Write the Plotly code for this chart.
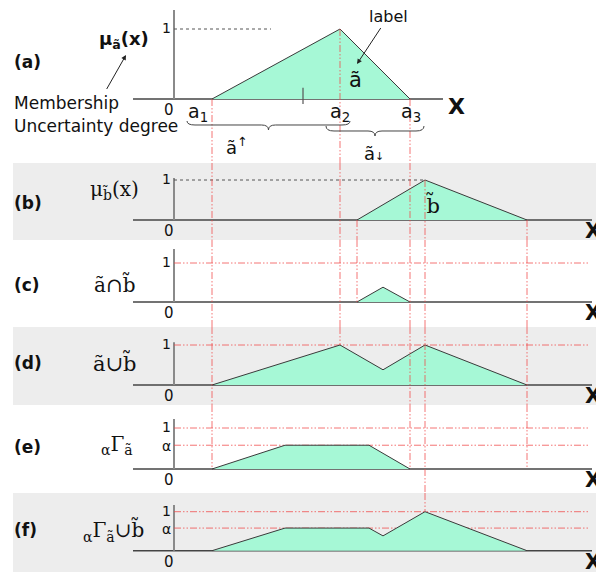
import plotly.graph_objects as go

W, H = 596, 572

# ---------------- data ----------------
a_x = [3.8, 16.6, 23.6]          # a1, a2, a3
a_y = [0, 1, 0]
b_x = [18.3, 25.1, 35.3]         # b1, b2, b3
b_y = [0, 1, 0]
inter_x = [18.3, 20.9, 23.6]
inter_y = [0, 0.38, 0]
union_x = [3.8, 16.6, 20.9, 25.1, 35.3]
union_y = [0, 1, 0.38, 1, 0]
alpha = 0.58
cut_x = [3.8, 11.1, 19.5, 23.6]
cut_y = [0, alpha, alpha, 0]
cutu_x = [3.8, 11.1, 19.5, 20.9, 25.1, 35.3]
cutu_y = [0, alpha, alpha, 0.38, 1, 0]
panel_ticks = [["1"], ["1"], ["1"], ["1"], ["1", "α"], ["1", "α"]]

# ---------------- layout geometry (pixels) ----------------
# panel: (top px, bottom px, px of y=0, px of y=1)
panels = [
    (0, 163, 99, 29),
    (163, 240, 220, 180),
    (240, 327, 302, 263),
    (327, 405, 385, 345),
    (405, 493, 469, 428),
    (493, 572, 550.7, 511.7),
]
X0PX, XSCALE = 174, 10.0
xr = [(0 - X0PX) / XSCALE, (W - X0PX) / XSCALE]


def px2x(p):
    return (p - X0PX) / XSCALE


def pxp(p):  # px -> paper x
    return p / W


def pyp(p):  # px -> paper y
    return 1 - p / H


yranges = []
for (T, B, P0, P1) in panels:
    s = P0 - P1
    yranges.append([-(B - P0) / s, (P0 - T) / s])

MINT = "#a6f8d6"
OUT = "#3a3a3a"
RED = "rgba(240,70,70,0.75)"
DASH = "7px,2px,1.5px,2px,1.5px,2px"
AXC = "#444444"
YAXC = "#8a8a8a"
SANS = "DejaVu Sans, Verdana"
SERIF = "DejaVu Serif, Liberation Serif"

fig = go.Figure()
yn = ["y", "y2", "y3", "y4", "y5", "y6"]


def add_line(xs, ys, k, color, width=1, dash=None):
    fig.add_trace(go.Scatter(x=xs, y=ys, xaxis="x", yaxis=yn[k], mode="lines",
                             line=dict(color=color, width=width, dash=dash),
                             hoverinfo="skip", showlegend=False))


def add_fill(xs, ys, k):
    fig.add_trace(go.Scatter(x=xs, y=ys, xaxis="x", yaxis=yn[k], mode="lines",
                             fill="tozeroy", fillcolor=MINT,
                             line=dict(color=OUT, width=1),
                             hoverinfo="skip", showlegend=False))


# background bands (b), (d), (f)
for k in (1, 3, 5):
    fig.add_shape(type="rect", xref="paper", yref=yn[k] + " domain",
                  x0=pxp(13), x1=1, y0=0, y1=1, fillcolor="#ededed",
                  line_width=0, layer="below")

# horizontal axis + vertical y-axis lines per panel
x_ends = [443, 592, 592, 592, 592, 592]
y_tops = [1.27, 1.05, 1.36, 1.07, 1.22, 1.17]
for k in range(6):
    add_line([px2x(133), px2x(x_ends[k])], [0, 0], k, AXC, 1.4)
    add_line([0, 0], [0, y_tops[k]], k, YAXC, 2)

# reference dashed lines
add_line([0, px2x(271)], [1, 1], 0, "#555555", 1, "3px,3px")
add_line([0, b_x[1]], [1, 1], 1, "#555555", 1, "3px,3px")
for k in (2, 3, 4, 5):
    add_line([0, px2x(588)], [1, 1], k, RED, 1, DASH)
for k in (4, 5):
    add_line([0, px2x(588)], [alpha, alpha], k, RED, 1, DASH)

# membership shapes
add_fill(a_x, a_y, 0)
add_fill(b_x, b_y, 1)
add_fill(inter_x, inter_y, 2)
add_fill(union_x, union_y, 3)
add_fill(cut_x, cut_y, 4)
add_fill(cutu_x, cutu_y, 5)

# vertical connectors across panels: (x, start panel, start y, end panel, end y)
connectors = [
    (a_x[0], 0, 0, 4, 0),
    (a_x[1], 0, 1, 3, 1),
    (a_x[2], 0, 0, 4, 0),
    (b_x[0], 1, 0, 2, 0),
    (b_x[1], 1, 1, 5, 1),
    (b_x[2], 1, 0, 4, 0),
]
for (xv, k0, yv0, k1, yv1) in connectors:
    for k in range(k0, k1 + 1):
        top = yv0 if k == k0 else yranges[k][1]
        bot = yv1 if k == k1 else yranges[k][0]
        add_line([xv, xv], [top, bot], k, RED, 1, DASH)

# small tick in (a)
add_line([px2x(303), px2x(303)], [-0.07, 0.16], 0, "#555555", 1.2)

# braces (pixel paths -> paper)
def brace(x0, x1, y, h, tip):
    xm = (x0 + x1) / 2
    pts = [
        ("M", x0, y - h), ("Q", x0, y, x0 + 8, y), ("L", xm - 7, y),
        ("Q", xm, y, xm, y + tip), ("Q", xm, y, xm + 7, y),
        ("L", x1 - 8, y), ("Q", x1, y, x1, y - h),
    ]
    out = []
    for p in pts:
        cmd = p[0]
        coords = p[1:]
        s = []
        for i in range(0, len(coords), 2):
            s.append(f"{pxp(coords[i]):.5f},{pyp(coords[i+1]):.5f}")
        out.append(cmd + " " + " ".join(s))
    return " ".join(out)


fig.add_shape(type="path", xref="paper", yref="paper",
              path=brace(187, 350, 125, 4, 5), line=dict(color="#444", width=1))
fig.add_shape(type="path", xref="paper", yref="paper",
              path=brace(326, 424, 131, 5, 5), line=dict(color="#444", width=1))

ann = []


def T(text, x, y, size, family=SANS, color="#111",
      xanchor="center", yanchor="middle"):
    ann.append(dict(text=text, x=pxp(x), y=pyp(y), xref="paper", yref="paper",
                    showarrow=False, font=dict(size=size, family=family, color=color),
                    xanchor=xanchor, yanchor=yanchor))


# panel letters
for lab, yy in zip(["(a)", "(b)", "(c)", "(d)", "(e)", "(f)"],
                   [62, 203, 285, 363, 447, 530]):
    T(f"<b>{lab}</b>", 12, yy, 17, xanchor="left")

# tick labels
for k, (T0, B0, P0, P1) in enumerate(panels):
    T("1", 166, P1 - 1, 14)
    T("0", 169, P0 + 11, 15)
    if "α" in panel_ticks[k]:
        T("α", 166, P0 - alpha * (P0 - P1) + 1, 14)

# X labels
T("<b>X</b>", 446, 106, 22, xanchor="left")
for (T0, B0, P0, P1) in panels[1:]:
    T("<b>X</b>", 583, P0 + 11, 21, xanchor="left")

# panel (a) annotations
T("<b>μ<sub>ã</sub>(x)</b>", 124, 40, 18)
T("Membership", 12, 103, 17, xanchor="left")
T("Uncertainty degree", 12, 126, 17, xanchor="left")
T("a<sub>1</sub>", 198, 112, 19)
T("a<sub>2</sub>", 340, 112, 19)
T("a<sub>3</sub>", 411, 112, 19)
T("ã", 355, 80, 21)
T("ã<sup>↑</sup>", 237, 146, 18)
T("ã<span style='font-size:11px'>↓</span>", 374, 153, 18)

# arrows
ann.append(dict(text="label", x=pxp(357), y=pyp(64), xref="paper", yref="paper",
                ax=31, ay=-47, showarrow=True, arrowhead=2, arrowsize=1,
                arrowwidth=1, arrowcolor="#222",
                font=dict(size=16, family=SANS, color="#111")))
ann.append(dict(text=" ", x=pxp(126), y=pyp(55), xref="paper", yref="paper",
                ax=-21, ay=37, showarrow=True, arrowhead=2, arrowsize=1,
                arrowwidth=1, arrowcolor="#222", font=dict(size=2)))

# panel (b)-(f) labels
T("μ<sub>b̃</sub>(x)", 114, 190, 20, family=SERIF)
T("b̃", 433, 204, 21, family=SERIF)
T("ã∩b̃", 114, 284, 20, family=SERIF)
T("ã∪b̃", 115, 362, 21, family=SERIF)
T("<sub>α</sub>Γ<sub>ã</sub>", 117, 445, 20, family=SERIF)
T("<sub>α</sub>Γ<sub>ã</sub>∪b̃", 113, 530, 20, family=SERIF)

layout = dict(
    width=W, height=H, margin=dict(l=0, r=0, t=0, b=0),
    paper_bgcolor="white", plot_bgcolor="rgba(0,0,0,0)",
    showlegend=False, annotations=ann,
    xaxis=dict(domain=[0, 1], range=xr, visible=False, fixedrange=True),
)
for k, (T0, B0, P0, P1) in enumerate(panels):
    key = "yaxis" if k == 0 else f"yaxis{k+1}"
    layout[key] = dict(domain=[1 - B0 / H, 1 - T0 / H], range=yranges[k],
                       visible=False, anchor="x", fixedrange=True)
fig.update_layout(**layout)
fig.write_html("out.html", config={"displayModeBar": False},
               post_script="document.body.style.margin='0';document.body.style.overflow='hidden';")
